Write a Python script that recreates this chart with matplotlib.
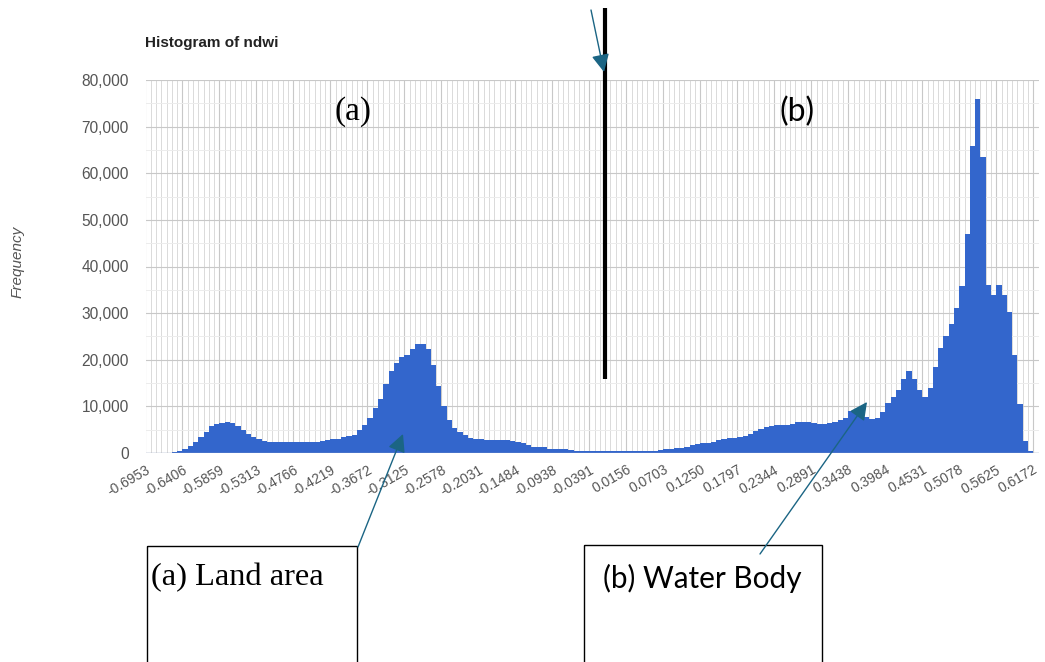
import numpy as np
import matplotlib
matplotlib.use("Agg")
import matplotlib.pyplot as plt
from matplotlib.patches import Rectangle
from matplotlib.ticker import FixedLocator, MultipleLocator

# ---- histogram data (NDWI buckets, width 1/128) ----
bin_start = -0.6953125
bin_width = 1 / 128
counts = [
    0, 0, 20, 40, 80, 180, 400, 900, 1500, 2300,
    3400, 4600, 5700, 6300, 6500, 6600, 6400, 5800, 4900, 4000,
    3400, 2900, 2600, 2400, 2300, 2300, 2280, 2280, 2290, 2300,
    2300, 2320, 2350, 2500, 2800, 2950, 3100, 3500, 3700, 3900,
    4950, 6000, 7600, 9600, 11500, 14700, 17500, 19400, 20600, 21100,
    22300, 23400, 23400, 22200, 18900, 14400, 10100, 7100, 5300, 4400,
    3800, 3300, 2900, 2900, 2850, 2850, 2750, 2700, 2700, 2550,
    2450, 2150, 1800, 1350, 1300, 1250, 850, 800, 800, 780,
    570, 450, 430, 430, 430, 420, 420, 420, 430, 450,
    460, 480, 480, 490, 500, 500, 520, 650, 820, 880,
    1050, 1100, 1350, 1700, 2000, 2080, 2150, 2450, 2800, 3100,
    3150, 3200, 3500, 3700, 4000, 4700, 5200, 5500, 5800, 5900,
    5900, 6000, 6300, 6600, 6700, 6700, 6400, 6200, 6200, 6500,
    6700, 7100, 7600, 9100, 9300, 8500, 7800, 7200, 7600, 8900,
    10800, 12000, 13500, 15900, 17500, 15900, 13500, 12100, 13900, 18400,
    22500, 25200, 27700, 31200, 35900, 46900, 65900, 75900, 63400, 36100,
    33800, 36100, 33800, 30200, 21000, 10500, 2500, 400, 0,
]
x_tick_labels = [
    "-0.6953", "-0.6406", "-0.5859", "-0.5313", "-0.4766", "-0.4219",
    "-0.3672", "-0.3125", "-0.2578", "-0.2031", "-0.1484", "-0.0938",
    "-0.0391", "0.0156", "0.0703", "0.1250", "0.1797", "0.2344",
    "0.2891", "0.3438", "0.3984", "0.4531", "0.5078", "0.5625", "0.6172",
]
y_tick_values = [0, 10000, 20000, 30000, 40000, 50000, 60000, 70000, 80000]
y_tick_labels = ["0", "10,000", "20,000", "30,000", "40,000",
                 "50,000", "60,000", "70,000", "80,000"]
chart_title = "Histogram of ndwi"
y_title = "Frequency"
region_marks = ["(a)", "(b)"]
box_texts = ["(a) Land area", "(b) Water Body"]

W, H = 1045, 662
fig = plt.figure(figsize=(W / 100, H / 100), dpi=100)
fig.patch.set_facecolor("white")


def px_rect(left, top, right, bottom):
    return [left / W, 1 - bottom / H, (right - left) / W, (bottom - top) / H]


sans = ["Liberation Sans", "DejaVu Sans"]
ax = fig.add_axes(px_rect(145.5, 80, 1038.5, 453))
edges = bin_start + bin_width * np.arange(len(counts))
ax.bar(edges, counts, width=bin_width, align="edge", color="#3366cc",
       linewidth=0, zorder=2)
ax.set_xlim(bin_start, bin_start + bin_width * len(counts))
ax.set_ylim(0, 80000)

major_x = bin_start + 7 * bin_width * np.arange(len(x_tick_labels))
ax.set_xticks(major_x)
ax.set_xticklabels(x_tick_labels, rotation=30, ha="right",
                   rotation_mode="anchor", family=sans, fontsize=10,
                   color="#555555")
ax.xaxis.set_minor_locator(FixedLocator(edges.tolist() + [bin_start + bin_width * len(counts)]))
ax.set_yticks(y_tick_values)
ax.set_yticklabels(y_tick_labels, family=sans, fontsize=11.2, color="#555555")
ax.yaxis.set_minor_locator(MultipleLocator(5000))
ax.tick_params(which="both", length=0)
ax.tick_params(axis="y", pad=12)
ax.tick_params(axis="x", pad=7)
ax.grid(which="major", color="#c8c8c8", linewidth=0.8, zorder=0)
ax.grid(which="minor", axis="x", color="#dadada", linewidth=0.7, zorder=0)
ax.grid(which="minor", axis="y", color="#ececec", linewidth=0.7, zorder=0)
ax.set_axisbelow(True)
for s in ax.spines.values():
    s.set_visible(False)
ax.axhline(0, color="#9aa6c4", linewidth=1.0, zorder=3)

# ---- overlay in pixel coordinates for title and annotations ----
ov = fig.add_axes([0, 0, 1, 1], zorder=5)
ov.set_xlim(0, W)
ov.set_ylim(H, 0)
ov.axis("off")
ov.patch.set_alpha(0)

ov.text(145, 43, chart_title, fontsize=11, fontweight="bold", family=sans,
        color="#222222", ha="left", va="center")
ov.text(18, 262, y_title, fontsize=11, style="italic", family=sans,
        color="#555555", rotation=90, ha="center", va="center")

ov.plot([605, 605], [8, 379], color="black", linewidth=3.0,
        solid_capstyle="butt")

arrow_color = "#1b6584"
head = "-|>,head_length=0.6,head_width=0.3"
for start, tip in [((591, 10), (604, 72)),
                   ((358, 547), (403, 434)),
                   ((760, 554), (867, 402))]:
    ov.annotate("", xy=tip, xytext=start,
                arrowprops=dict(arrowstyle=head, color=arrow_color, lw=1.0,
                                mutation_scale=18, shrinkA=0, shrinkB=0))

ov.text(353, 112, region_marks[0], family="Liberation Serif", fontsize=24,
        ha="center", va="center")
ov.text(797, 112, region_marks[1], family="Lato", fontsize=23,
        ha="center", va="center")

ov.add_patch(Rectangle((147, 546), 210, 140, fill=False, edgecolor="black",
                       linewidth=1.0, clip_on=False))
ov.add_patch(Rectangle((584, 545), 238, 140, fill=False, edgecolor="black",
                       linewidth=1.0, clip_on=False))
ov.text(151, 578, box_texts[0], family="Liberation Serif", fontsize=23.4,
        ha="left", va="center")
ov.text(702, 578, box_texts[1], family="Lato", fontsize=21.4,
        ha="center", va="center")

fig.savefig("out.png", dpi=100)
